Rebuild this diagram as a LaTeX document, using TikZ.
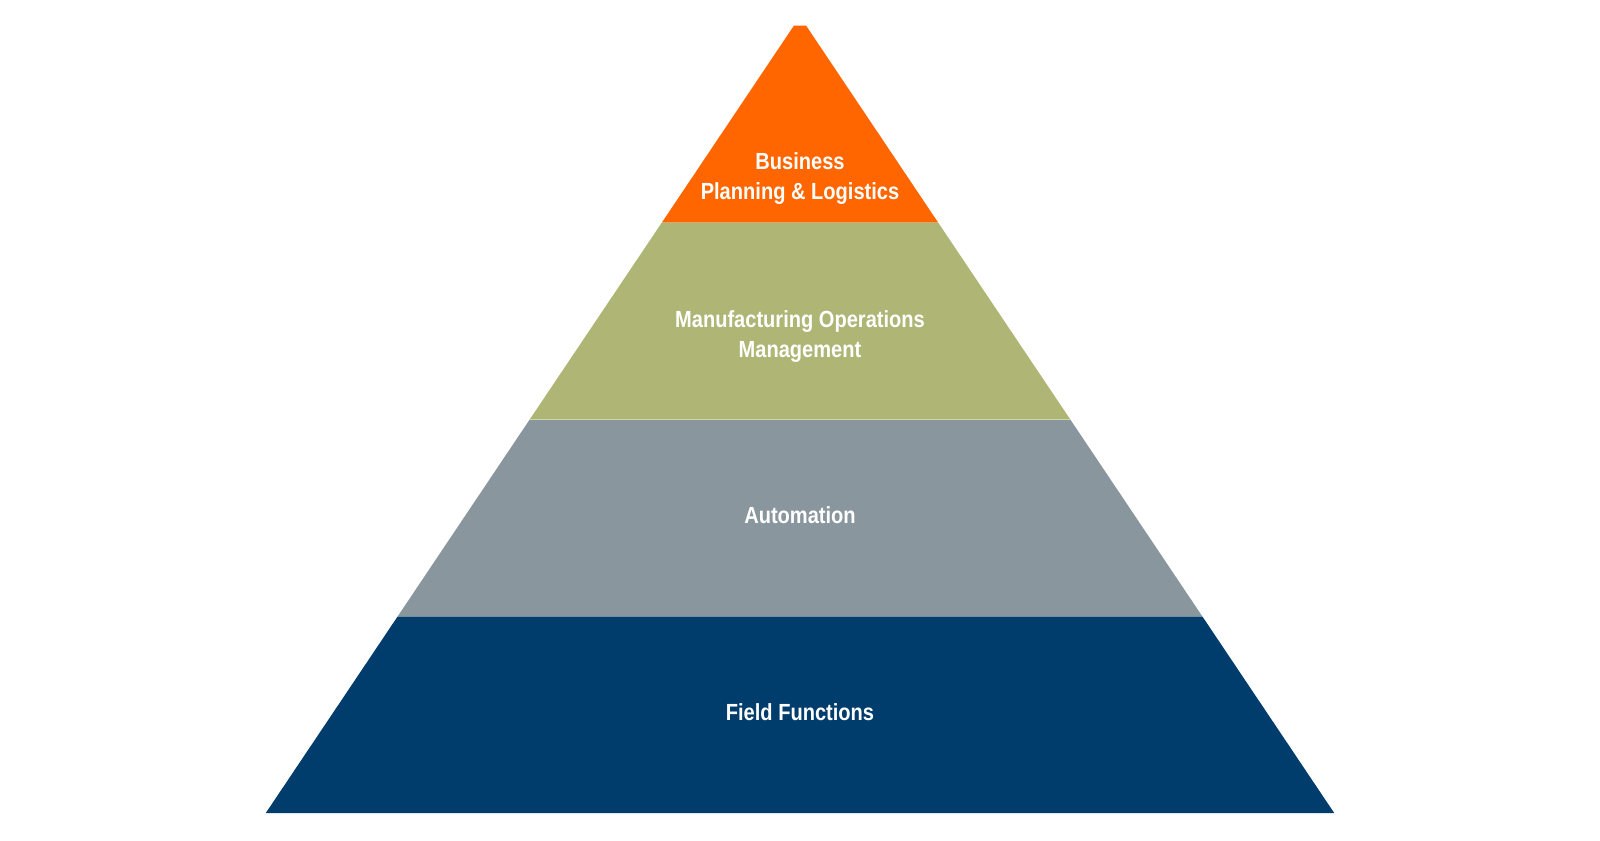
\documentclass[tikz,border=0pt]{standalone}
\usepackage{fontspec}
\setmainfont{Liberation Sans}[FakeStretch=0.86]
\definecolor{lvA}{HTML}{FF6600}
\definecolor{lvB}{HTML}{AFB575}
\definecolor{lvC}{HTML}{89969E}
\definecolor{lvD}{HTML}{003C6C}
\tikzset{
  lbl/.style={text=white, font=\fontsize{17.5pt}{22.2pt}\selectfont\bfseries, align=center, inner sep=0pt}
}
\begin{document}
\begin{tikzpicture}[x=0.75pt,y=-0.75pt]
\useasboundingbox[fill=white] (0,0) rectangle (1600,840);
\fill[lvA] (794,25.5) -- (806,25.5) -- (938.1,222.5) -- (661.9,222.5) -- cycle;
\fill[lvB] (661.9,222.5) -- (938.1,222.5) -- (1070.3,419.5) -- (529.7,419.5) -- cycle;
\fill[lvC] (529.7,419.5) -- (1070.3,419.5) -- (1202.4,616.5) -- (397.6,616.5) -- cycle;
\fill[lvD] (397.6,616.5) -- (1202.4,616.5) -- (1334.2,813) -- (265.8,813) -- cycle;
\draw[line width=0.8pt, color=lvB!60!white] (529.7,419.5) -- (1070.3,419.5);
\node[lbl] (n1) at (800,178.5) {Business\\Planning \& Logistics};
\node[lbl] (n2) at (800,336.5) {Manufacturing Operations\\Management};
\node[lbl] (n3) at (800,515.5) {Automation};
\node[lbl] (n4) at (800,712.5) {Field Functions};
\end{tikzpicture}
\end{document}
